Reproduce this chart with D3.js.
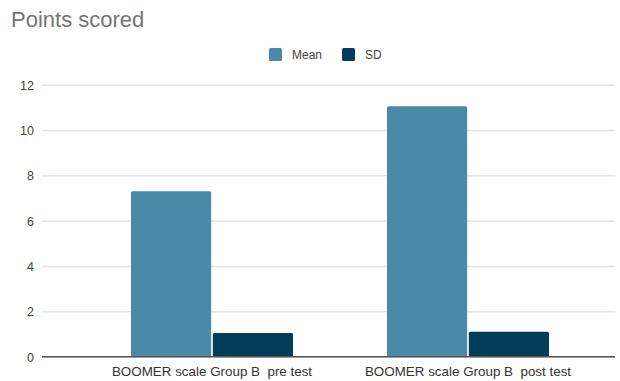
<!DOCTYPE html>
<html>
<head>
<meta charset="utf-8">
<script src="https://cdn.jsdelivr.net/npm/d3@7"></script>
<style>
  body { margin: 0; background: #fff; }
  svg text { font-family: "Liberation Sans", Arial, sans-serif; }
</style>
</head>
<body>
<svg id="chart" width="620" height="381"></svg>
<script>
const categories = ["BOOMER scale Group B  pre test", "BOOMER scale Group B  post test"];
const seriesNames = ["Mean", "SD"];
const meanValues = [7.3, 11.05];
const sdValues = [1.05, 1.1];
const yTicks = [0, 2, 4, 6, 8, 10, 12];
const colors = ["#4a8aa8", "#023d5a"];

const svg = d3.select("#chart");
const rows = categories.map((c, i) => ({ category: c, values: [meanValues[i], sdValues[i]] }));

const y = d3.scaleLinear().domain([0, 12]).range([356.7, 84.7]);
const x0 = d3.scaleBand().domain(categories).range([84, 596]).paddingInner(0.367).paddingOuter(0.1835);
const x1 = d3.scaleBand().domain(seriesNames).range([0, x0.bandwidth()]).paddingInner(0.02);

// Title
svg.append("text").attr("x", 11).attr("y", 27).attr("font-size", 22).attr("fill", "#757575").text("Points scored");

// Gridlines and y labels
const yAxis = d3.axisLeft(y).tickValues(yTicks).tickSize(-(615 - 42)).tickFormat(d3.format("d"));
const gy = svg.append("g").attr("transform", "translate(42,0)").call(yAxis);
gy.select(".domain").remove();
gy.selectAll(".tick line").attr("stroke", "#e3e3e3").attr("stroke-width", 1.5);
gy.selectAll(".tick text").attr("x", -8).attr("font-size", 12.5).attr("fill", "#444").attr("dy", "0.35em");

// Bars
const groups = svg.append("g").selectAll("g").data(rows).join("g")
  .attr("transform", d => `translate(${x0(d.category)},0)`);
groups.selectAll("rect").data(d => d.values.map((v, j) => ({ key: seriesNames[j], value: v, j })))
  .join("rect")
  .attr("x", d => x1(d.key))
  .attr("width", x1.bandwidth())
  .attr("y", d => y(d.value))
  .attr("height", d => y(0) - y(d.value))
  .attr("rx", 1.5)
  .attr("fill", d => colors[d.j]);

// Baseline
svg.append("line").attr("x1", 42).attr("x2", 615).attr("y1", y(0)).attr("y2", y(0))
  .attr("stroke", "#555").attr("stroke-width", 1.5);

// X labels
const xAxis = d3.axisBottom(x0).tickSize(0);
const gx = svg.append("g").attr("transform", `translate(0,${y(0)})`).call(xAxis);
gx.select(".domain").remove();
gx.selectAll(".tick text").attr("font-size", 13.4).attr("fill", "#333").attr("y", 10)
  .style("white-space", "pre");

// Legend
const legendItems = [{ name: "Mean", x: 269, tx: 292 }, { name: "SD", x: 342, tx: 365 }];
const lg = svg.append("g");
legendItems.forEach((it, i) => {
  lg.append("rect").attr("x", it.x).attr("y", 48).attr("width", 13).attr("height", 13).attr("rx", 1.5).attr("fill", colors[i]);
  lg.append("text").attr("x", it.tx).attr("y", 59).attr("font-size", 12).attr("fill", "#444").text(it.name);
});
</script>
</body>
</html>
